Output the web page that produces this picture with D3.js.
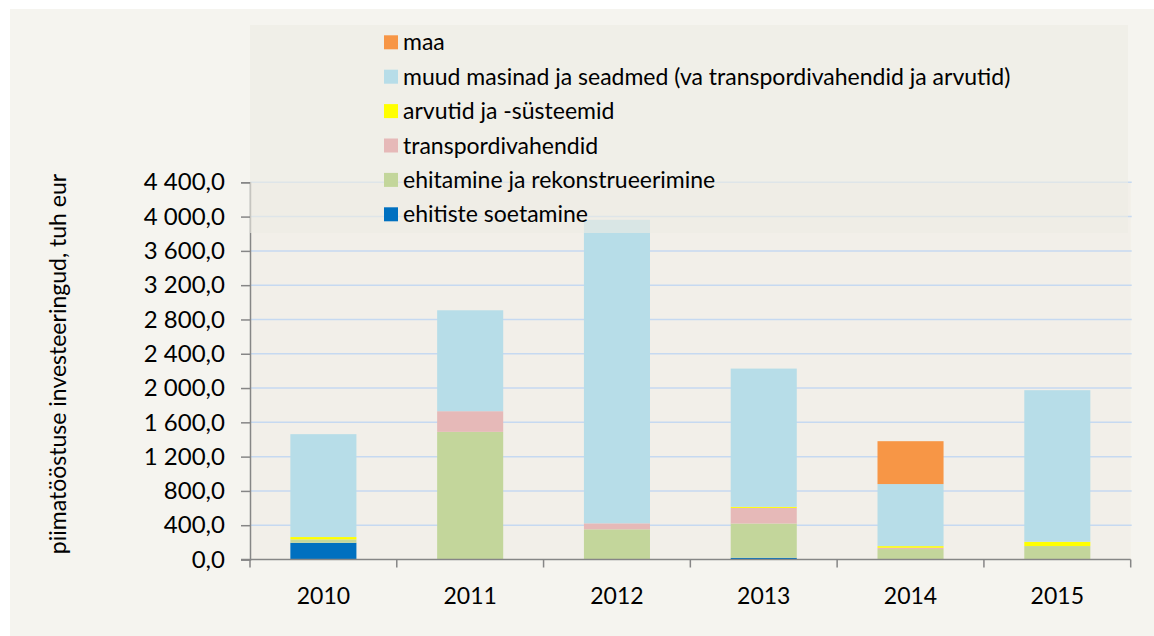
<!DOCTYPE html>
<html><head><meta charset="utf-8">
<script src="https://cdn.jsdelivr.net/npm/d3@7"></script>
<style>
html,body{margin:0;padding:0;background:#ffffff;}
svg{display:block;font-family:Lato, "Open Sans", sans-serif;}
</style></head>
<body>
<svg id="chart" width="1154" height="636"></svg>
<script>
const years = ["2010","2011","2012","2013","2014","2015"];
const seriesNames = ["ehitiste soetamine","ehitamine ja rekonstrueerimine","transpordivahendid","arvutid ja -süsteemid","muud masinad ja seadmed (va transpordivahendid ja arvutid)","maa"];
const ehitisteSoetamine = [195, 0, 0, 20, 0, 0];
const ehitamine = [40, 1489, 352, 400, 122, 157];
const transpordivahendid = [0, 241, 70, 182, 15, 0];
const arvutid = [27, 0, 0, 12, 19, 50];
const muudMasinad = [1200, 1177, 3541, 1613, 724, 1768];
const maa = [0, 0, 0, 0, 500, 0];
const seriesColors = ["#0070c0","#c3d69b","#e6b9b8","#ffff00","#b7dde8","#f79646"];
const yTicks = [0,400,800,1200,1600,2000,2400,2800,3200,3600,4000,4400];
const yTitle = "piimatööstuse investeeringud, tuh eur";

const allSeries = [ehitisteSoetamine, ehitamine, transpordivahendid, arvutid, muudMasinad, maa];
const rows = years.map((yr,i)=>{const o={year:yr}; seriesNames.forEach((n,k)=>o[n]=allSeries[k][i]); return o;});

const svg = d3.select("#chart");
const L=250, R=1130.7, T=182.3, B=559.5;

svg.append("rect").attr("x",10).attr("y",9).attr("width",1144).attr("height",627).attr("fill","#f5f4ef");
svg.append("rect").attr("x",L).attr("y",T).attr("width",R-L).attr("height",B-T).attr("fill","#f2efe9");

const x = d3.scaleBand().domain(years).range([L,R]).paddingInner(0.55).paddingOuter(0.275);
const y = d3.scaleLinear().domain([0,4400]).range([B,T]);

svg.append("g").selectAll("line").data(yTicks.filter(t=>t>0)).join("line")
  .attr("x1",L).attr("x2",R+1).attr("y1",d=>y(d)).attr("y2",d=>y(d))
  .attr("stroke","#c6d9f1").attr("stroke-width",1.5);

const stack = d3.stack().keys(seriesNames)(rows);
svg.append("g").selectAll("g").data(stack).join("g")
  .attr("fill",(d,i)=>seriesColors[i])
  .selectAll("rect").data(d=>d).join("rect")
  .attr("x",d=>x(d.data.year)).attr("width",x.bandwidth())
  .attr("y",d=>y(d[1])).attr("height",d=>Math.max(0,y(d[0])-y(d[1])));

const yAxis = svg.append("g").attr("transform",`translate(${L},0)`)
  .call(d3.axisLeft(y).tickValues(yTicks).tickSize(9).tickPadding(16)
    .tickFormat(d=>d3.format(",.1f")(d).replace(/,/g," ").replace(".",",")));
yAxis.attr("font-size",null).attr("font-family",null);
yAxis.select(".domain").attr("stroke","#868686").attr("stroke-width",1.5);
yAxis.selectAll(".tick line").attr("stroke","#868686").attr("stroke-width",1.5);
yAxis.selectAll("text").style("font-size","24px").style("font-family","Lato, sans-serif").attr("fill","#000");

const xAxisG = svg.append("g").attr("transform",`translate(0,${B})`);
xAxisG.append("line").attr("x1",L-9).attr("x2",R).attr("y1",0).attr("y2",0).attr("stroke","#868686").attr("stroke-width",1.5);
const bounds = years.map(yr=>x(yr)-x.step()*x.paddingInner()/2).concat([R]);
bounds[0]=L;
xAxisG.selectAll("line.tk").data(bounds).join("line").attr("class","tk")
  .attr("x1",d=>d).attr("x2",d=>d).attr("y1",0).attr("y2",8).attr("stroke","#868686").attr("stroke-width",1.5);
xAxisG.selectAll("text").data(years).join("text")
  .attr("x",d=>x(d)+x.bandwidth()/2).attr("y",44).attr("text-anchor","middle")
  .style("font-size","23px").attr("fill","#000").text(d=>d);

svg.append("text").attr("transform","translate(66,364) rotate(-90)").attr("text-anchor","middle")
  .style("font-size","23px").attr("fill","#000").text(yTitle);

svg.append("rect").attr("x",L).attr("y",25).attr("width",1128-L).attr("height",208)
  .attr("fill","#eeebe4").attr("opacity",0.62);
const legOrder = d3.range(seriesNames.length).reverse();
const lg = svg.append("g").selectAll("g").data(legOrder).join("g")
  .attr("transform",(d,i)=>`translate(384,${42.3+i*34.4})`);
lg.append("rect").attr("x",0).attr("y",-7).attr("width",14).attr("height",14).attr("fill",d=>seriesColors[d]);
lg.append("text").attr("x",19).attr("y",8).style("font-size","23px").attr("fill","#000").text(d=>seriesNames[d]);
</script>
</body></html>
